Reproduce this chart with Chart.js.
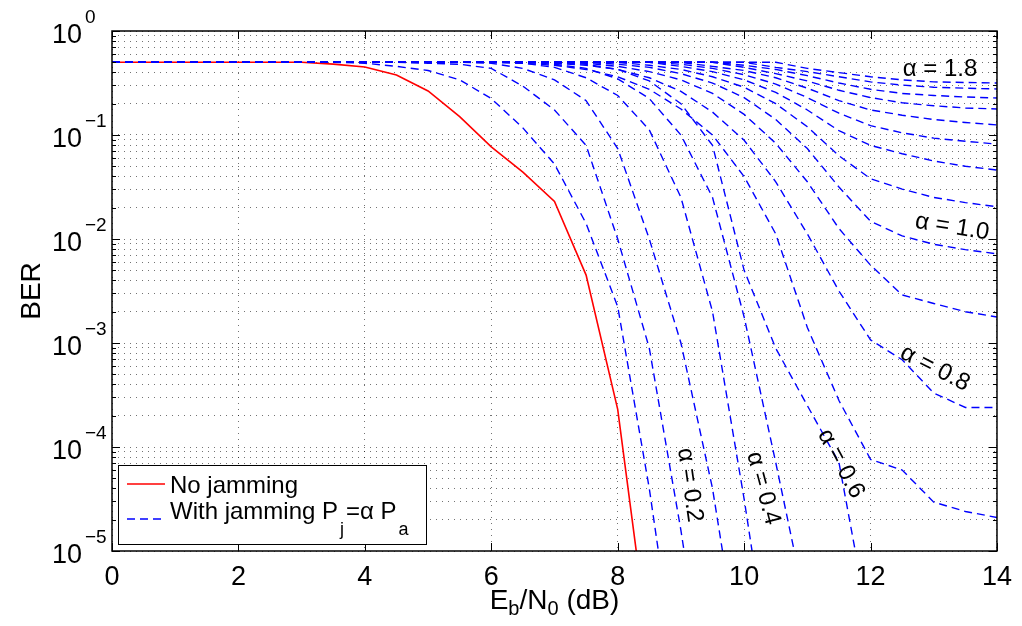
<!DOCTYPE html>
<html>
<head>
<meta charset="utf-8">
<script src="https://cdn.jsdelivr.net/npm/chart.js@4.4.0/dist/chart.umd.min.js"></script>
<style>
  html, body { margin: 0; padding: 0; background: #fff; }
</style>
</head>
<body>
<canvas id="berChart" width="1022" height="626"></canvas>
<script>
// Eb/N0 grid (dB)
const snrDb = [0, 0.5, 1, 1.5, 2, 2.5, 3, 3.5, 4, 4.5, 5, 5.5, 6, 6.5, 7, 7.5, 8, 8.5, 9, 9.5, 10, 10.5, 11, 11.5, 12, 12.5, 13, 13.5, 14];

// BER without jamming
const berNoJam = [0.5, 0.5, 0.5, 0.5, 0.5, 0.5, 0.5, 0.48, 0.45, 0.377, 0.265, 0.15, 0.077, 0.044, 0.023, 0.0045, 2.3e-4, 1.1e-6,
  null, null, null, null, null, null, null, null, null, null, null];

// BER with jamming, one array per alpha
const berAlpha01 = [0.5, 0.5, 0.5, 0.5, 0.5, 0.5, 0.5, 0.5, 0.49, 0.457, 0.417, 0.339, 0.224, 0.117, 0.0525, 0.0141, 2.24e-3, 3.98e-5, 3.2e-7,
  null, null, null, null, null, null, null, null, null, null];
const berAlpha02 = [0.5, 0.5, 0.5, 0.5, 0.5, 0.5, 0.5, 0.5, 0.5, 0.5, 0.49, 0.479, 0.437, 0.295, 0.174, 0.0794, 0.01, 8.9e-4, 1.58e-5, 1.6e-7,
  null, null, null, null, null, null, null, null, null];
const berAlpha03 = [0.5, 0.5, 0.5, 0.5, 0.5, 0.5, 0.5, 0.5, 0.5, 0.5, 0.5, 0.5, 0.49, 0.437, 0.339, 0.214, 0.0741, 0.01, 1e-3, 3.98e-5, 5e-7,
  null, null, null, null, null, null, null, null];
const berAlpha04 = [0.5, 0.5, 0.5, 0.5, 0.5, 0.5, 0.5, 0.5, 0.5, 0.5, 0.5, 0.5, 0.5, 0.49, 0.447, 0.355, 0.24, 0.112, 0.0251, 2e-3, 3.16e-5, 3.2e-7,
  null, null, null, null, null, null, null];
const berAlpha05 = [0.5, 0.5, 0.5, 0.5, 0.5, 0.5, 0.5, 0.5, 0.5, 0.5, 0.5, 0.5, 0.5, 0.5, 0.479, 0.437, 0.347, 0.224, 0.1, 0.0251, 1.78e-3, 7.1e-5, 2.5e-6,
  null, null, null, null, null, null];
const berAlpha06 = [0.5, 0.5, 0.5, 0.5, 0.5, 0.5, 0.5, 0.5, 0.5, 0.5, 0.5, 0.5, 0.5, 0.5, 0.5, 0.479, 0.427, 0.331, 0.2, 0.0794, 5e-3, 8.9e-4, 2.5e-4, 7.1e-5, 1.6e-6,
  null, null, null, null];
const berAlpha07 = [0.5, 0.5, 0.5, 0.5, 0.5, 0.5, 0.5, 0.5, 0.5, 0.5, 0.5, 0.5, 0.5, 0.49, 0.468, 0.427, 0.363, 0.275, 0.178, 0.1, 0.0398, 0.0112, 1.41e-3, 2.8e-4, 7.6e-5, 6e-5, 2.95e-5, 2.4e-5, 2.1e-5];
const berAlpha08 = [0.5, 0.5, 0.5, 0.5, 0.5, 0.5, 0.5, 0.5, 0.5, 0.5, 0.5, 0.5, 0.5, 0.5, 0.49, 0.468, 0.427, 0.355, 0.263, 0.166, 0.0891, 0.0355, 0.0112, 3.16e-3, 1.07e-3, 6.9e-4, 3.3e-4, 2.4e-4, 2.4e-4];
const berAlpha09 = [0.5, 0.5, 0.5, 0.5, 0.5, 0.5, 0.5, 0.5, 0.5, 0.5, 0.5, 0.5, 0.5, 0.5, 0.5, 0.49, 0.457, 0.407, 0.339, 0.251, 0.158, 0.0832, 0.0355, 0.0126, 5.6e-3, 2.9e-3, 2.4e-3, 2e-3, 1.78e-3];
const berAlpha10 = [0.5, 0.5, 0.5, 0.5, 0.5, 0.5, 0.5, 0.5, 0.5, 0.5, 0.5, 0.5, 0.5, 0.5, 0.5, 0.5, 0.479, 0.447, 0.389, 0.316, 0.229, 0.141, 0.0741, 0.0316, 0.0148, 0.0107, 8.9e-3, 7.9e-3, 7.2e-3];
const berAlpha11 = [0.5, 0.5, 0.5, 0.5, 0.5, 0.5, 0.5, 0.5, 0.5, 0.5, 0.5, 0.5, 0.5, 0.5, 0.5, 0.5, 0.5, 0.468, 0.427, 0.363, 0.288, 0.2, 0.12, 0.0631, 0.038, 0.0302, 0.0251, 0.0224, 0.0204];
const berAlpha12 = [0.5, 0.5, 0.5, 0.5, 0.5, 0.5, 0.5, 0.5, 0.5, 0.5, 0.5, 0.5, 0.5, 0.5, 0.5, 0.5, 0.5, 0.5, 0.457, 0.407, 0.339, 0.257, 0.174, 0.11, 0.0794, 0.0661, 0.0562, 0.0501, 0.046];
const berAlpha13 = [0.5, 0.5, 0.5, 0.5, 0.5, 0.5, 0.5, 0.5, 0.5, 0.5, 0.5, 0.5, 0.5, 0.5, 0.5, 0.5, 0.5, 0.5, 0.479, 0.437, 0.38, 0.309, 0.229, 0.162, 0.123, 0.105, 0.0933, 0.0871, 0.0818];
const berAlpha14 = [0.5, 0.5, 0.5, 0.5, 0.5, 0.5, 0.5, 0.5, 0.5, 0.5, 0.5, 0.5, 0.5, 0.5, 0.5, 0.5, 0.5, 0.5, 0.5, 0.457, 0.417, 0.355, 0.282, 0.214, 0.174, 0.155, 0.141, 0.132, 0.125];
const berAlpha15 = [0.5, 0.5, 0.5, 0.5, 0.5, 0.5, 0.5, 0.5, 0.5, 0.5, 0.5, 0.5, 0.5, 0.5, 0.5, 0.5, 0.5, 0.5, 0.5, 0.5, 0.447, 0.389, 0.331, 0.269, 0.229, 0.204, 0.191, 0.182, 0.178];
const berAlpha16 = [0.5, 0.5, 0.5, 0.5, 0.5, 0.5, 0.5, 0.5, 0.5, 0.5, 0.5, 0.5, 0.5, 0.5, 0.5, 0.5, 0.5, 0.5, 0.5, 0.5, 0.468, 0.427, 0.372, 0.316, 0.275, 0.251, 0.24, 0.232, 0.227];
const berAlpha17 = [0.5, 0.5, 0.5, 0.5, 0.5, 0.5, 0.5, 0.5, 0.5, 0.5, 0.5, 0.5, 0.5, 0.5, 0.5, 0.5, 0.5, 0.5, 0.5, 0.5, 0.5, 0.447, 0.407, 0.363, 0.324, 0.302, 0.288, 0.282, 0.277];
const berAlpha18 = [0.5, 0.5, 0.5, 0.5, 0.5, 0.5, 0.5, 0.5, 0.5, 0.5, 0.5, 0.5, 0.5, 0.5, 0.5, 0.5, 0.5, 0.5, 0.5, 0.5, 0.5, 0.5, 0.437, 0.398, 0.363, 0.339, 0.324, 0.32, 0.316];

const alphaValues = [0.1, 0.2, 0.3, 0.4, 0.5, 0.6, 0.7, 0.8, 0.9, 1.0, 1.1, 1.2, 1.3, 1.4, 1.5, 1.6, 1.7, 1.8];
const berJam = [berAlpha01, berAlpha02, berAlpha03, berAlpha04, berAlpha05, berAlpha06, berAlpha07, berAlpha08, berAlpha09,
  berAlpha10, berAlpha11, berAlpha12, berAlpha13, berAlpha14, berAlpha15, berAlpha16, berAlpha17, berAlpha18];

// axis ticks
const xTickValues = [0, 2, 4, 6, 8, 10, 12, 14];
const yDecadeExps = [0, -1, -2, -3, -4, -5];

// curve labels (data coords + rotation in degrees)
const curveLabels = [
  { text: 'α = 1.8', x: 13.1, y: 0.43, rot: 0 },
  { text: 'α = 1.0', x: 13.29, y: 0.013, rot: 9 },
  { text: 'α = 0.8', x: 13.02, y: 5.7e-4, rot: 27 },
  { text: 'α = 0.6', x: 11.53, y: 6.9e-5, rot: 62 },
  { text: 'α = 0.4', x: 10.3, y: 4e-5, rot: 75 },
  { text: 'α = 0.2', x: 9.14, y: 4.3e-5, rot: 82 }
];

const FONT = '"Liberation Sans", Arial, Helvetica, sans-serif';

function toPoints(values) {
  return snrDb.map((x, i) => ({ x: x, y: values[i] }));
}

const datasets = [{
  label: 'No jamming',
  data: toPoints(berNoJam),
  borderColor: '#ff0000',
  borderWidth: 1.6,
  pointRadius: 0,
  order: 1
}];
berJam.forEach((vals, k) => {
  datasets.push({
    label: 'alpha = ' + alphaValues[k],
    data: toPoints(vals),
    borderColor: '#0000ff',
    borderWidth: 1.4,
    borderDash: [8, 5],
    pointRadius: 0,
    order: 0
  });
});

// draws the box, inward ticks, superscript labels, titles, curve labels and legend
const decorPlugin = {
  id: 'decor',
  afterDraw(chart) {
    const ctx = chart.ctx;
    const a = chart.chartArea;
    const xs = chart.scales.x;
    const ys = chart.scales.y;

    function seg(x1, y1, x2, y2) {
      ctx.beginPath();
      ctx.moveTo(x1, y1);
      ctx.lineTo(x2, y2);
      ctx.stroke();
    }

    ctx.save();
    ctx.strokeStyle = '#000';
    ctx.lineWidth = 1;
    xs.ticks.forEach(t => {
      const px = Math.round(xs.getPixelForValue(t.value)) + 0.5;
      seg(px, a.bottom, px, a.bottom - 8);
      seg(px, a.top, px, a.top + 8);
    });
    ys.ticks.forEach(t => {
      const py = Math.round(ys.getPixelForValue(t.value)) + 0.5;
      const len = t.major ? 8 : 4;
      seg(a.left, py, a.left + len, py);
      seg(a.right, py, a.right - len, py);
    });
    ctx.lineWidth = 1.5;
    ctx.strokeRect(a.left, a.top, a.right - a.left, a.bottom - a.top);

    // y tick labels 10^n
    ctx.fillStyle = '#000';
    ctx.textBaseline = 'alphabetic';
    yDecadeExps.forEach(e => {
      const py = ys.getPixelForValue(Math.pow(10, e));
      ctx.font = '27px ' + FONT;
      ctx.textAlign = 'right';
      ctx.fillText('10', 82, py + 12);
      ctx.font = '19px ' + FONT;
      ctx.textAlign = 'left';
      ctx.fillText(e === 0 ? '0' : '\u2212' + Math.abs(e), 85, py - 8);
    });

    // x title with subscripts
    const parts = [['E', 0], ['b', 1], ['/N', 0], ['0', 1], [' (dB)', 0]];
    let total = 0;
    parts.forEach(p => {
      ctx.font = (p[1] ? '20px ' : '28px ') + FONT;
      total += ctx.measureText(p[0]).width;
    });
    let cx = (a.left + a.right) / 2 - total / 2;
    ctx.textAlign = 'left';
    parts.forEach(p => {
      ctx.font = (p[1] ? '20px ' : '28px ') + FONT;
      ctx.fillText(p[0], cx, p[1] ? 615 : 609);
      cx += ctx.measureText(p[0]).width;
    });

    // y title
    ctx.save();
    ctx.translate(40, 291);
    ctx.rotate(-Math.PI / 2);
    ctx.font = '28px ' + FONT;
    ctx.textAlign = 'center';
    ctx.fillText('BER', 0, 0);
    ctx.restore();

    // curve labels
    curveLabels.forEach(l => {
      ctx.save();
      ctx.translate(xs.getPixelForValue(l.x), ys.getPixelForValue(l.y));
      ctx.rotate(l.rot * Math.PI / 180);
      ctx.font = '24px ' + FONT;
      ctx.textAlign = 'center';
      ctx.textBaseline = 'middle';
      ctx.fillText(l.text, 0, 0);
      ctx.restore();
    });

    // legend
    const lx = a.left + 6, ly = 465, lw = 308, lh = 79;
    ctx.fillStyle = '#fff';
    ctx.fillRect(lx, ly, lw, lh);
    ctx.strokeStyle = '#000';
    ctx.lineWidth = 1;
    ctx.strokeRect(lx + 0.5, ly + 0.5, lw, lh);
    ctx.lineWidth = datasets[0].borderWidth;
    ctx.strokeStyle = datasets[0].borderColor;
    seg(lx + 9, ly + 19, lx + 47, ly + 19);
    ctx.strokeStyle = datasets[1].borderColor;
    ctx.lineWidth = 1.6;
    ctx.setLineDash([8, 5]);
    seg(lx + 9, ly + 54, lx + 47, ly + 54);
    ctx.setLineDash([]);
    ctx.fillStyle = '#000';
    ctx.textAlign = 'left';
    ctx.textBaseline = 'alphabetic';
    ctx.font = '24px ' + FONT;
    ctx.fillText('No jamming', lx + 52, ly + 28);
    const lparts = [['With jamming P', 0], ['j', 1], ['=\u03b1 P', 0], ['a', 1]];
    let tx = lx + 52;
    lparts.forEach(p => {
      ctx.font = (p[1] ? '18px ' : '24px ') + FONT;
      ctx.fillText(p[0], tx + (p[1] ? 2 : 0), p[1] ? ly + 70 : ly + 54);
      tx += ctx.measureText(p[0]).width + (p[1] ? 4 : 0);
    });
    ctx.restore();
  }
};

new Chart(document.getElementById('berChart'), {
  type: 'line',
  data: { datasets: datasets },
  options: {
    responsive: false,
    animation: false,
    layout: { padding: { top: 31, right: 20, left: 0, bottom: 0 } },
    plugins: { legend: { display: false }, tooltip: { enabled: false } },
    scales: {
      x: {
        type: 'linear',
        min: 0,
        max: 14,
        afterBuildTicks: scale => { scale.ticks = xTickValues.map(v => ({ value: v })); },
        afterFit: scale => { scale.height = 75; },
        ticks: { color: '#000', padding: 10, font: { family: FONT, size: 27 }, maxRotation: 0 },
        grid: { color: 'rgba(0,0,0,0.55)', lineWidth: 1, drawTicks: false },
        border: { display: false, dash: [1, 5] }
      },
      y: {
        type: 'logarithmic',
        min: 1e-5,
        max: 1,
        afterBuildTicks: scale => {
          const t = [];
          for (let e = -5; e < 0; e++) {
            for (let m = 1; m <= 9; m++) t.push({ value: m * Math.pow(10, e), major: m === 1 });
          }
          t.push({ value: 1, major: true });
          scale.ticks = t;
        },
        afterFit: scale => { scale.width = 112; },
        ticks: { display: false },
        grid: { color: 'rgba(0,0,0,0.55)', lineWidth: 1, drawTicks: false },
        border: { display: false, dash: [1, 5] }
      }
    }
  },
  plugins: [decorPlugin]
});
</script>
</body>
</html>
